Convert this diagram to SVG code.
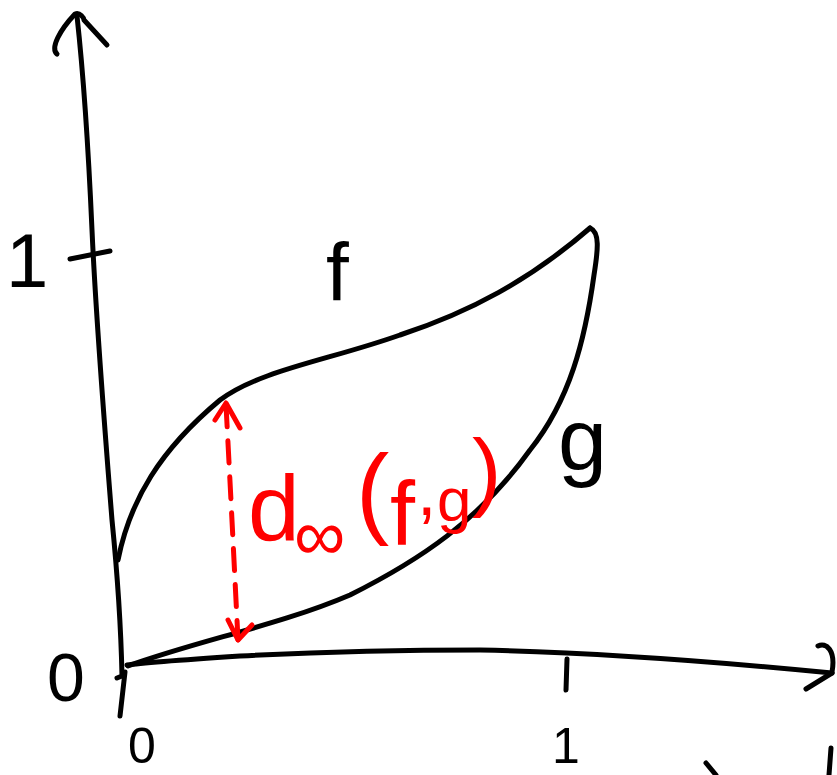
<svg xmlns="http://www.w3.org/2000/svg" width="837" height="775" viewBox="0 0 837 775">
<style>
.ink{fill:none;stroke:#000;stroke-width:5;stroke-linecap:round;stroke-linejoin:round}
.red{fill:none;stroke:#f00;stroke-width:5;stroke-linecap:round;stroke-linejoin:round}
.dash{stroke-dasharray:22 14}
.lbl{font-family:"Liberation Sans","DejaVu Sans",sans-serif;fill:#000}
.rl{font-family:"Liberation Sans","DejaVu Sans",sans-serif;fill:#f00}
</style>
<rect width="837" height="775" fill="#fff"/>
<g id="axes">
  <path class="ink" d="M77,16 C84,80 88,140 92,230 C96,320 104,420 112,520 C118,580 121,630 122,676 L117,678"/>
  <path class="ink" d="M125,672 L120,716"/>
  <path class="ink" d="M57,54 C50,48 60,30 75,14 C80,12 84,18 84,20 L107,45"/>
  <path class="ink" d="M70,259 L110,251"/>
  <path class="ink" d="M127,665 C140,663 180,660 240,656 C320,652 400,650 480,650 C580,652 700,660 832,673"/>
  <path class="ink" d="M818,646 C826,642 836,650 832,672"/>
  <path class="ink" d="M806,689 L832,673"/>
  <path class="ink" d="M567,659 L566,690"/>
  <path class="ink" d="M706,763 L716,775"/>
  <path class="ink" d="M831,748 L829,775"/>
</g>
<g id="curve-f">
  <path class="ink" d="M118,560 C130,500 160,450 220,400 C260,370 330,360 400,335 C470,312 530,280 590,228"/>
</g>
<g id="curve-g">
  <path class="ink" d="M590,228 C600,232 598,250 594,275 C585,340 570,400 530,450 C480,520 420,560 350,595 C280,625 200,640 128,666"/>
</g>
<g id="labels">
  <text class="lbl" x="6" y="287" font-size="76">1</text>
  <text class="lbl" x="326" y="300" font-size="82">f</text>
  <text class="lbl" x="558" y="470" font-size="88">g</text>
  <text class="lbl" x="47" y="701" font-size="68">0</text>
  <text class="lbl" x="128" y="763" font-size="50">0</text>
  <text class="lbl" x="552" y="763" font-size="50">1</text>
</g>
<g id="distance">
  <path class="red dash" d="M226,405 C230,480 234,560 238,640"/>
  <path class="red" d="M215,420 L226,403 L240,428"/>
  <path class="red" d="M228,620 L238,640 L252,625"/>
  <text class="rl" font-size="93"><tspan x="248" y="540">d</tspan><tspan x="294" y="560" font-size="72">∞</tspan><tspan x="356" y="525" font-size="100">(</tspan><tspan x="390" y="545" font-size="90">f</tspan><tspan x="417" y="515" font-size="70">,</tspan><tspan x="437" y="521" font-size="62">g</tspan><tspan x="472" y="500" font-size="88">)</tspan></text>
</g>
</svg>
